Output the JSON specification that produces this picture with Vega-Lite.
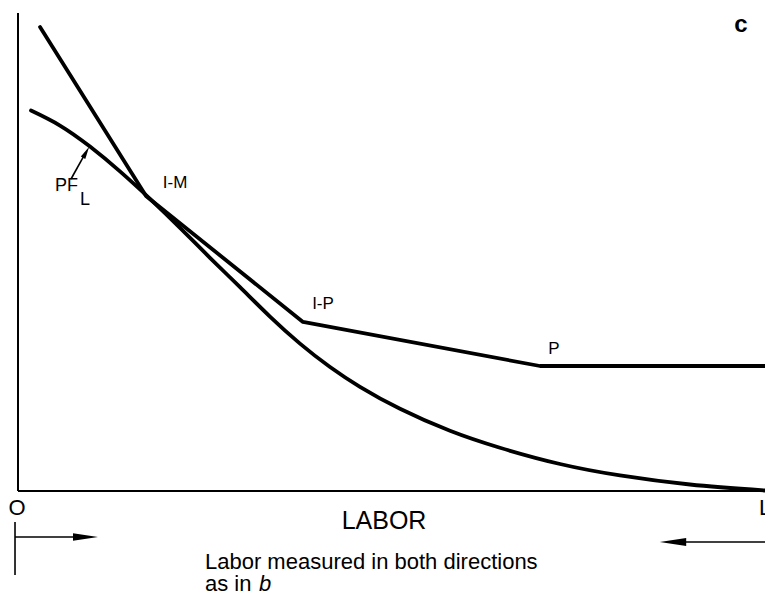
{
  "$schema": "https://vega.github.io/schema/vega-lite/v6.json",
  "width": 747,
  "height": 478,
  "autosize": {"type": "none"},
  "padding": {"left": 18, "top": 13, "right": 0, "bottom": 105},
  "background": "white",
  "config": {"view": {"stroke": null}, "font": "Liberation Sans"},
  "datasets": {
    "curves": [
      {"series": "PF_L", "x": 1.74, "y": 79.6},
      {"series": "PF_L", "x": 5.62, "y": 76.46},
      {"series": "PF_L", "x": 9.64, "y": 72.06},
      {"series": "PF_L", "x": 13.65, "y": 66.86},
      {"series": "PF_L", "x": 17.67, "y": 61.13},
      {"series": "PF_L", "x": 21.69, "y": 55.06},
      {"series": "PF_L", "x": 25.7, "y": 48.79},
      {"series": "PF_L", "x": 29.72, "y": 42.64},
      {"series": "PF_L", "x": 33.73, "y": 36.49},
      {"series": "PF_L", "x": 37.75, "y": 30.84},
      {"series": "PF_L", "x": 41.77, "y": 25.94},
      {"series": "PF_L", "x": 45.78, "y": 21.8},
      {"series": "PF_L", "x": 51.14, "y": 17.2},
      {"series": "PF_L", "x": 57.83, "y": 12.59},
      {"series": "PF_L", "x": 64.52, "y": 9.04},
      {"series": "PF_L", "x": 72.56, "y": 5.65},
      {"series": "PF_L", "x": 80.59, "y": 3.26},
      {"series": "PF_L", "x": 89.96, "y": 1.36},
      {"series": "PF_L", "x": 100, "y": 0.1}
    ],
    "kinked": [
      {"series": "I-M-P", "x": 2.95, "y": 97.07},
      {"series": "I-M-P", "x": 17.14, "y": 61.72},
      {"series": "I-M-P", "x": 38.15, "y": 35.36},
      {"series": "I-M-P", "x": 69.88, "y": 26.15},
      {"series": "I-M-P", "x": 100, "y": 26.15}
    ]
  },
  "encoding": {
    "x": {"field": "x", "type": "quantitative", "scale": {"domain": [0, 100], "nice": false, "zero": false}, "axis": null},
    "y": {"field": "y", "type": "quantitative", "scale": {"domain": [0, 100], "nice": false, "zero": false}, "axis": null}
  },
  "layer": [
    {
      "data": {"values": [{"x": 0, "y": 0, "x2": 100, "y2": 0}, {"x": 0, "y": 0, "x2": 0, "y2": 100}]},
      "mark": {"type": "rule", "color": "#000", "strokeWidth": 2},
      "encoding": {"x2": {"field": "x2"}, "y2": {"field": "y2"}}
    },
    {
      "data": {"name": "curves"},
      "mark": {"type": "line", "interpolate": "natural", "color": "#000", "strokeWidth": 3.8, "strokeCap": "round"},
      "encoding": {"detail": {"field": "series"}}
    },
    {
      "data": {"name": "kinked"},
      "mark": {"type": "line", "interpolate": "linear", "color": "#000", "strokeWidth": 3.8, "strokeCap": "round", "strokeJoin": "round"},
      "encoding": {"detail": {"field": "series"}}
    },
    {
      "data": {"values": [
        {"x": 7.1, "y": 65.27, "x2": 9.1, "y2": 70.88},
        {"x": -0.4, "y": -9.62, "x2": 9.5, "y2": -9.62},
        {"x": -0.4, "y": -6.49, "x2": -0.4, "y2": -17.57},
        {"x": 87.5, "y": -10.67, "x2": 100, "y2": -10.67}
      ]},
      "mark": {"type": "rule", "color": "#000", "strokeWidth": 1.6},
      "encoding": {"x2": {"field": "x2"}, "y2": {"field": "y2"}}
    },
    {
      "data": {"values": [{"x": 9.12, "y": 70.88}]},
      "mark": {"type": "point", "shape": "M-0.4,1L0,-1L0.4,1Z", "filled": true, "color": "#000", "opacity": 1, "size": 160, "angle": 29}
    },
    {
      "data": {"values": [{"x": 9.04, "y": -9.62}]},
      "mark": {"type": "point", "shape": "M-1,-0.3L1,0L-1,0.3Z", "filled": true, "color": "#000", "opacity": 1, "size": 625}
    },
    {
      "data": {"values": [{"x": 87.68, "y": -10.67}]},
      "mark": {"type": "point", "shape": "M1,-0.3L-1,0L1,0.3Z", "filled": true, "color": "#000", "opacity": 1, "size": 700}
    },
    {
      "data": {"values": [
        {"label": "I-M", "x": 21.02, "y": 64.44},
        {"label": "I-P", "x": 40.83, "y": 39.12},
        {"label": "P", "x": 71.75, "y": 29.71}
      ]},
      "mark": {"type": "text", "fontSize": 17, "align": "center", "baseline": "middle", "color": "#000"},
      "encoding": {"text": {"field": "label"}}
    },
    {
      "data": {"values": [{"label": "PF", "x": 4.95, "y": 63.81}]},
      "mark": {"type": "text", "fontSize": 18, "align": "left", "baseline": "middle", "color": "#000"},
      "encoding": {"text": {"field": "label"}}
    },
    {
      "data": {"values": [{"label": "L", "x": 8.3, "y": 60.8}]},
      "mark": {"type": "text", "fontSize": 18, "align": "left", "baseline": "middle", "color": "#000"},
      "encoding": {"text": {"field": "label"}}
    },
    {
      "data": {"values": [{"label": "c", "x": 96.79, "y": 97.49}]},
      "mark": {"type": "text", "fontSize": 24, "fontWeight": "bold", "align": "center", "baseline": "middle", "color": "#000"},
      "encoding": {"text": {"field": "label"}}
    },
    {
      "data": {"values": [{"label": "O", "x": -0.13, "y": -5.02}]},
      "mark": {"type": "text", "fontSize": 22, "align": "center", "baseline": "alphabetic", "color": "#000"},
      "encoding": {"text": {"field": "label"}}
    },
    {
      "data": {"values": [{"label": "L", "x": 99.2, "y": -5.02}]},
      "mark": {"type": "text", "fontSize": 22, "align": "left", "baseline": "alphabetic", "color": "#000"},
      "encoding": {"text": {"field": "label"}}
    },
    {
      "data": {"values": [{"label": "LABOR", "x": 49.0, "y": -7.95}]},
      "mark": {"type": "text", "fontSize": 25, "align": "center", "baseline": "alphabetic", "color": "#000"},
      "encoding": {"text": {"field": "label"}}
    },
    {
      "data": {"values": [
        {"label": "Labor measured in both directions", "x": 25.03, "y": -16.32},
        {"label": "as in", "x": 25.03, "y": -20.92}
      ]},
      "mark": {"type": "text", "fontSize": 22, "align": "left", "baseline": "alphabetic", "color": "#000"},
      "encoding": {"text": {"field": "label"}}
    },
    {
      "data": {"values": [{"label": "b", "x": 32.26, "y": -20.92}]},
      "mark": {"type": "text", "fontSize": 22, "fontStyle": "italic", "align": "left", "baseline": "alphabetic", "color": "#000"},
      "encoding": {"text": {"field": "label"}}
    }
  ]
}
